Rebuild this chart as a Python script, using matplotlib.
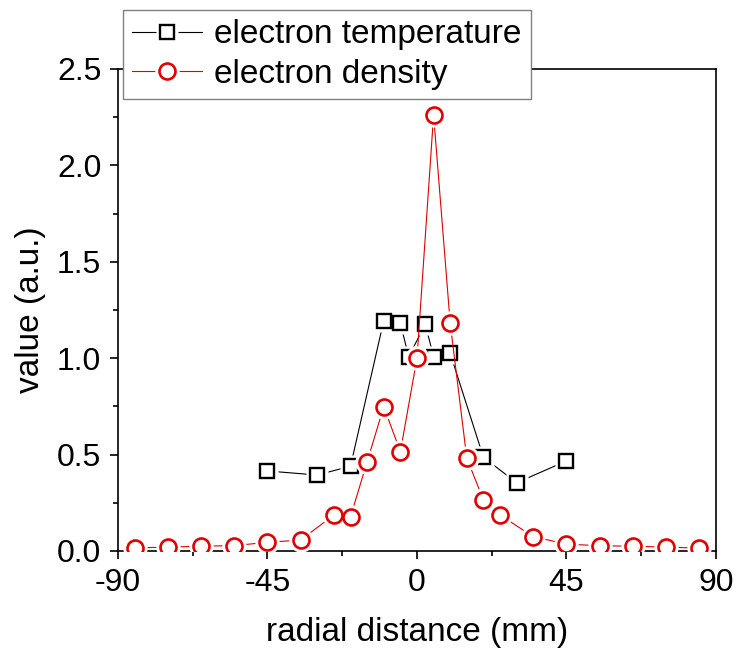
import matplotlib
matplotlib.use("Agg")
import matplotlib.pyplot as plt
from matplotlib.lines import Line2D
from matplotlib.legend_handler import HandlerTuple
from matplotlib.ticker import MultipleLocator

plt.rcParams['font.family'] = ['Liberation Sans', 'DejaVu Sans']
plt.rcParams['axes.unicode_minus'] = False

# data
temp_x = [-45, -30, -20, -10, -5, -2.5, 2.5, 5, 10, 20, 30, 45]
temp_y = [0.415, 0.394, 0.44, 1.195, 1.181, 1.008, 1.176, 1.008, 1.025, 0.486, 0.354, 0.467]

dens_x = [-85, -75, -65, -55, -45, -35, -25, -20, -15, -10, -5, 0, 5, 10, 15, 20, 25, 35, 45, 55, 65, 75, 85]
dens_y = [0.016, 0.02, 0.025, 0.028, 0.045, 0.057, 0.187, 0.178, 0.463, 0.749, 0.515, 1.0, 2.261,
          1.181, 0.481, 0.265, 0.187, 0.074, 0.036, 0.027, 0.025, 0.02, 0.015]

x_ticks = [-90, -45, 0, 45, 90]
y_ticks = [0.0, 0.5, 1.0, 1.5, 2.0, 2.5]

fig = plt.figure(figsize=(7.36, 6.54), dpi=100)
ax = fig.add_axes([0.1603, 0.1575, 0.8125, 0.737])

series = [
    (temp_x, temp_y, 'black', 's', 10.0, 1.7, "electron temperature", 2),
    (dens_x, dens_y, '#e00000', 'o', 11.5, 1.9, "electron density", 3),
]
handles = []
for x, y, c, m, ms, mew, label, z in series:
    ax.plot(x, y, color=c, lw=0.8, zorder=z)
    ax.plot(x, y, ls='none', marker=m, ms=ms + 6, mfc='white', mec='none', zorder=z + 0.1)
    ax.plot(x, y, ls='none', marker=m, ms=ms, mfc='white', mec=c, mew=mew, zorder=z + 0.2)
    h_line = Line2D([], [], color=c, lw=0.8)
    h_halo = Line2D([], [], ls='none', marker=m, ms=ms + 6, mfc='white', mec='none')
    h_mark = Line2D([], [], ls='none', marker=m, ms=ms, mfc='white', mec=c, mew=mew)
    handles.append(((h_line, h_halo, h_mark), label))

ax.set_xlim(-90, 90)
ax.set_ylim(0, 2.5)
ax.set_xticks(x_ticks)
ax.set_yticks(y_ticks)
ax.set_xticklabels([str(v) for v in x_ticks])
ax.set_yticklabels([f"{v:.1f}" for v in y_ticks])
ax.xaxis.set_minor_locator(MultipleLocator(22.5))
ax.yaxis.set_minor_locator(MultipleLocator(0.25))
ax.tick_params(which='both', direction='out', top=False, right=False, width=1.2, labelsize=23)
ax.tick_params(which='major', length=6, pad=6)
ax.tick_params(which='minor', length=3.5)
for s in ax.spines.values():
    s.set_linewidth(1.2)

ax.set_xlabel("radial distance (mm)", fontsize=24, labelpad=14)
ax.set_ylabel("value (a.u.)", fontsize=24, labelpad=8)

leg = ax.legend([h for h, _ in handles], [l for _, l in handles],
                handler_map={tuple: HandlerTuple(ndivide=1)},
                loc='upper left', bbox_to_anchor=(123 / 736, 1 - 10 / 654),
                bbox_transform=fig.transFigure, borderaxespad=0,
                fontsize=24, frameon=True, fancybox=False, framealpha=1,
                edgecolor='#808080', handlelength=2.1, handletextpad=0.35,
                borderpad=0.28, labelspacing=0.25)
leg.get_frame().set_linewidth(1.0)
leg.set_zorder(10)

fig.savefig("out.png", dpi=100)
